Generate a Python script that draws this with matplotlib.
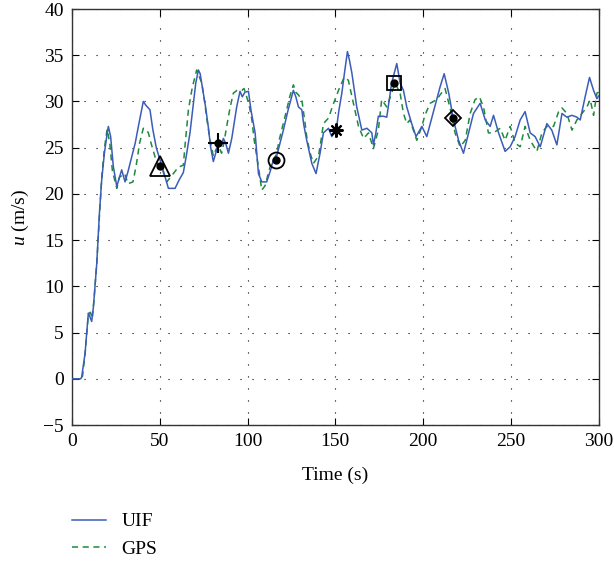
import matplotlib
matplotlib.use("Agg")
import matplotlib.pyplot as plt

# ---------------- data ----------------
uif_t = [0, 5, 5.5, 7.4, 9.3, 10, 11.2, 12.2, 14.1, 15.6, 16.9, 18.5, 20, 20.7, 22, 23.5, 25.5, 27, 28.3, 30.2,
         32, 34, 36, 38, 40.6, 42, 44.4, 46, 48, 50.1, 52, 54.9, 58.7, 61, 63.4, 65, 67.2, 69, 70.5, 72,
         73, 74.8, 76, 77.6, 79, 80.5, 82, 83.4, 85, 86.2, 87.5, 89.1, 91, 93.8, 95.7, 97, 98.5, 100.5, 102, 104.3,
         106.2, 108.1, 110.9, 113, 114.7, 116.6, 118.5, 120.4, 123, 126.1, 127.5, 129, 130.9, 132, 133.7, 136.6, 139, 141.3, 143.2, 146.1,
         148, 150.8, 152, 153.7, 155.5, 156.9, 158, 159.4, 162.2, 165.1, 168, 170.8, 171.7, 173, 174.5, 177.4, 179.3, 182.1, 185, 186.9,
         188.8, 190.7, 193.5, 196, 199.3, 202.1, 205.9, 209.7, 212, 214.6, 217.3, 220.2, 223, 225.9, 228.7, 232.5, 235.4, 238.2, 240.1, 243,
         246.7, 249.6, 252.4, 255.3, 258.1, 261, 263.8, 266.7, 270.5, 273.3, 276.2, 279.1, 281.9, 284.8, 287.6, 289.5, 292.3, 294.8, 297.1, 299, 300]
uif_u = [0, 0, 0.2, 2.7, 7.1, 6.8, 6.2, 7.8, 12.5, 17.9, 21.5, 24.5, 26.5, 27.3, 26.2, 23.0, 20.8, 21.8, 22.6, 21.3,
         22.5, 24.0, 25.5, 27.5, 30.0, 29.6, 29.1, 27.0, 25.0, 23.7, 22.5, 20.6, 20.6, 21.5, 22.3, 24.0, 26.6, 29.5, 32.0, 33.4,
         33.0, 30.9, 29.5, 27.3, 25.0, 23.5, 24.5, 25.5, 25.2, 26.0, 25.5, 24.4, 26.0, 29.4, 31.1, 30.5, 31.0, 31.1, 29.0, 26.6,
         22.2, 21.3, 21.3, 22.5, 23.7, 24.1, 25.5, 26.9, 29.0, 31.2, 30.5, 29.4, 29.1, 27.5, 25.8, 23.3, 22.2, 24.4, 26.6, 27.1,
         26.2, 27.3, 29.0, 30.9, 33.5, 35.4, 34.5, 33.1, 29.4, 26.9, 27.1, 26.6, 25.3, 26.5, 28.4, 28.4, 28.3, 32.0, 34.1, 32.0,
         31.2, 29.4, 27.6, 26.2, 27.3, 26.2, 28.9, 31.6, 33.0, 30.9, 28.0, 25.8, 24.4, 26.6, 28.7, 29.8, 28.0, 27.3, 28.5, 26.6,
         24.6, 25.1, 26.2, 28.0, 28.9, 26.6, 26.2, 25.1, 27.6, 26.9, 25.3, 28.7, 28.3, 28.5, 28.3, 28.0, 30.5, 32.6, 31.2, 30.3, 30.6]

gps_t = [0, 5, 6, 7.5, 9.3, 10.5, 11.5, 12.5, 14.2, 15.8, 17, 18.5, 20, 21.5, 23, 25.5, 27, 28.5, 30, 31.9,
         34.7, 36.5, 38.5, 40.6, 42, 43.5, 45, 47.3, 49, 51.5, 54, 57.7, 60.6, 63.4, 64.5, 66.3, 68.5, 71, 73.9, 75.5,
         76.8, 78.5, 80.5, 82, 83.4, 85.2, 86.5, 88.1, 90, 91.9, 94, 96.7, 98, 99.5, 101, 102.4, 103.8, 105.2, 106.5, 108.1,
         110, 111.5, 112.8, 114.5, 116.6, 118, 119.4, 122.3, 124, 126.1, 127.5, 129, 130.9, 132.5, 133.7, 135.5, 137.5, 140.4, 142, 143.2,
         146.1, 149, 151.8, 155, 157.4, 160.3, 163.2, 166.1, 168.9, 171.7, 174.5, 176.4, 179.3, 182.1, 184, 186.9, 188.8, 190.7, 192.5, 196.4,
         199.3, 201, 204, 207.8, 210, 212.5, 215.6, 218.2, 221.1, 224, 226.8, 229.6, 232.1, 234.4, 237.2, 240.1, 243.9, 246.7, 249.6, 252.4,
         255.3, 258.1, 261, 264.8, 267.7, 270.5, 274.3, 277.2, 279.1, 281.9, 284.8, 287.6, 290.5, 293.3, 295.2, 297.1, 299, 300]
gps_u = [0, 0, 0.3, 2.8, 7.0, 7.2, 6.5, 8.5, 12.8, 18.2, 22.0, 25.0, 27.0, 25.5, 22.5, 20.6, 21.8, 22.0, 22.2, 21.1,
         21.3, 23.0, 25.5, 27.1, 27.0, 26.6, 25.5, 24.0, 23.2, 22.6, 21.3, 22.2, 22.9, 23.1, 25.5, 29.1, 31.5, 33.4, 32.0, 30.0,
         28.1, 26.0, 24.1, 24.8, 25.2, 24.4, 25.5, 27.3, 29.3, 30.9, 31.2, 31.2, 31.4, 30.5, 29.5, 28.1, 25.8, 24.1, 22.5, 20.4,
         20.9, 22.0, 22.9, 23.5, 24.4, 25.8, 26.9, 29.1, 30.5, 31.8, 31.0, 30.7, 30.2, 28.0, 26.2, 24.5, 23.3, 24.1, 26.0, 27.6,
         28.2, 29.8, 31.2, 32.6, 32.3, 29.8, 27.3, 26.0, 26.6, 24.9, 26.9, 30.2, 29.4, 30.9, 32.0, 30.9, 28.7, 27.6, 28.0, 25.8,
         27.3, 28.5, 29.8, 30.2, 30.8, 31.4, 29.1, 26.6, 25.1, 25.8, 28.7, 30.2, 30.5, 29.4, 26.6, 26.6, 27.1, 25.8, 27.3, 25.5,
         25.1, 27.3, 25.8, 24.6, 26.6, 27.3, 27.3, 28.9, 29.3, 28.7, 26.9, 28.0, 28.7, 29.4, 30.2, 28.5, 30.9, 31.0]

marker_t = [50.1, 83.4, 116.2, 150.3, 183.5, 216.9]
marker_u = [23.0, 25.5, 23.7, 26.9, 32.0, 28.2]
marker_shapes = ['^', '+', 'o', (8, 2, 0), 's', 'D']
marker_sizes = [14, 14, 11.5, 10, 10.5, 8]

series_labels = ['UIF', 'GPS']
x_ticks = [0, 50, 100, 150, 200, 250, 300]
y_ticks = [-5, 0, 5, 10, 15, 20, 25, 30, 35, 40]

# ---------------- style ----------------
plt.rcParams['font.family'] = ['Liberation Serif', 'DejaVu Serif']
plt.rcParams['mathtext.fontset'] = 'custom'
plt.rcParams['mathtext.it'] = 'Liberation Serif:italic'
plt.rcParams['mathtext.rm'] = 'Liberation Serif'

blue = '#3b5cb8'
green = '#1e8a3c'

fig = plt.figure(figsize=(6.14, 5.63), dpi=100)
ax = fig.add_axes([0.1173, 0.2451, 0.8577, 0.7389])

l1, = ax.plot(uif_t, uif_u, color=blue, lw=1.1, label=series_labels[0], zorder=3)
l2, = ax.plot(gps_t, gps_u, color=green, lw=1.1, linestyle=(0, (4, 3)), label=series_labels[1], zorder=2)

for t, u, m, s in zip(marker_t, marker_u, marker_shapes, marker_sizes):
    if m in ('+', (8, 2, 0)):
        ax.plot([t], [u], marker=m, ms=s, color='k', mew=1.5, ls='none', zorder=5)
    else:
        ax.plot([t], [u], marker=m, ms=s, mfc='none', mec='k', mew=1.3, ls='none', zorder=5)
    ax.plot([t], [u], marker='o', ms=5, color='k', ls='none', zorder=6)

ax.set_xlim(0, 300)
ax.set_ylim(-5, 40)
ax.set_xticks(x_ticks)
ax.set_yticks(y_ticks)
ax.set_yticklabels(['\u22125'] + [str(v) for v in y_ticks[1:]])
ax.tick_params(direction='in', top=True, right=True, labelsize=14, length=5, width=0.8, pad=6)
ax.grid(True, color='k', linestyle=(0, (1, 9.8)), lw=0.8)
for sp in ax.spines.values():
    sp.set_linewidth(1.0)
    sp.set_color('#333333')

ax.set_xlabel('Time (s)', fontsize=14, labelpad=12)
ax.set_ylabel('$u$ (m/s)', fontsize=14, labelpad=9)

fig.legend(handles=[l1, l2], labels=series_labels, loc='upper left',
           bbox_to_anchor=(0.1046, 0.103), frameon=False, fontsize=14,
           handlelength=1.75, handletextpad=0.8, labelspacing=0.5, borderaxespad=0)

fig.savefig('out.png', dpi=100)
